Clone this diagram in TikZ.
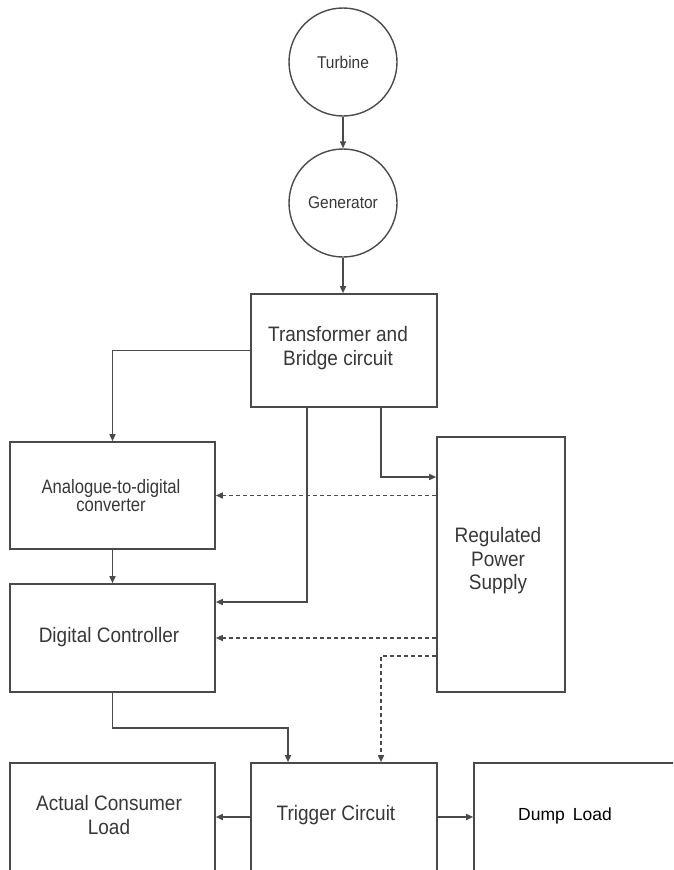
\documentclass[tikz,border=0pt]{standalone}
\usepackage{fontspec}
\setmainfont{Liberation Sans}
\usetikzlibrary{arrows.meta}
\definecolor{ln}{HTML}{4A4A4A}
\definecolor{tx}{HTML}{383838}
% slightly tall lettering
\newcommand{\vs}[1]{\scalebox{1}[1.1]{#1}}

\begin{document}
\begin{tikzpicture}[x=1pt,y=-1pt,
  wire/.style={draw=ln, line width=1.5pt, -{Triangle[length=7pt,width=6pt]}},
  dwire/.style={wire, dash pattern=on 4pt off 3pt},
  blk/.style={draw=ln, line width=1.6pt, fill=white, inner sep=0pt},
  disk/.style={draw=ln, line width=1.4pt, circle, minimum size=108pt, inner sep=0pt,
    text=tx, font=\fontsize{15.5}{18}\selectfont},
  lbl/.style={text=tx, align=center, inner sep=0pt, font=\fontsize{19}{23.5}\selectfont}]

\useasboundingbox (0,0) rectangle (673,870);
\clip (0,0) rectangle (673,870);
\fill[white] (0,0) rectangle (673,870);

% machines
\node[disk] (turbine) at (343,62) {\vs{Turbine}};
\node[disk] (generator) at (343,203) {\vs{Generator}};

% blocks
\node[blk, minimum width=186pt, minimum height=113pt] (transformer) at (344,350.5) {};
\node[blk, minimum width=205pt, minimum height=107pt] (adc) at (112.5,495.5) {};
\node[blk, minimum width=128pt, minimum height=255pt] (rps) at (501,564.5) {};
\node[blk, minimum width=205pt, minimum height=108pt] (dc) at (112.5,638) {};
\node[blk, minimum width=205pt, minimum height=117pt] (acl) at (112.5,821.5) {};
\node[blk, minimum width=186pt, minimum height=117pt] (trig) at (344,821.5) {};
\node[blk, minimum width=216pt, minimum height=117pt] (dump) at (582,821.5) {};

% block captions
\node[lbl] (transformerT) at (338,348) {\vs{Transformer and}\\\vs{Bridge circuit}};
\node[lbl, font=\fontsize{18.5}{18}\selectfont] (adcT) at (111,496)
  {\scalebox{0.9}[1.05]{Analogue-to-digital}\\\scalebox{0.9}[1.05]{converter}};
\node[lbl] (rpsT) at (498,561) {\vs{Regulated}\\\vs{Power}\\\vs{Supply}};
\node[lbl] (dcT) at (109,637) {\vs{Digital Controller}};
\node[lbl] (aclT) at (109,815) {\vs{Actual Consumer}\\\vs{Load}};
\node[lbl] (trigT) at (336,815) {\vs{Trigger Circuit}};
\fill[white] (518,800) rectangle (644,875);
\node[inner sep=0pt, anchor=west, text=black, font=\fontsize{17.5}{20}\selectfont]
  (dumpT) at (518,816) {Dump\hspace{8pt}Load};

% power path
\draw[wire] (turbine.south) -- (turbine.south |- generator.north);
\draw[wire] (generator.south) -- (generator.south |- transformer.north);
\draw[wire] (transformer.west) -| (adc.north);
\draw[wire] ([xshift=37pt]transformer.south) |- ([yshift=87.5pt]rps.west);
\draw[wire] ([xshift=-37pt]transformer.south) |- ([yshift=36pt]dc.east);
\draw[wire] (adc.south) -- (dc.north);
\draw[wire] (dc.south) -- ++(0,35) -| ([xshift=-56pt]trig.north);
\draw[wire] ([yshift=4.5pt]trig.west) -- ([yshift=4.5pt]acl.east);
\draw[wire] ([yshift=4.5pt]trig.east) -- ([yshift=4.5pt]dump.west);

% supply rails
\draw[dwire] (rps.west |- adc.east) -- (adc.east);
\draw[dwire] (rps.west |- dc.east) -- (dc.east);
\draw[dwire] ([yshift=-91.5pt]rps.west) -| ([xshift=37pt]trig.north);
\end{tikzpicture}
\end{document}
